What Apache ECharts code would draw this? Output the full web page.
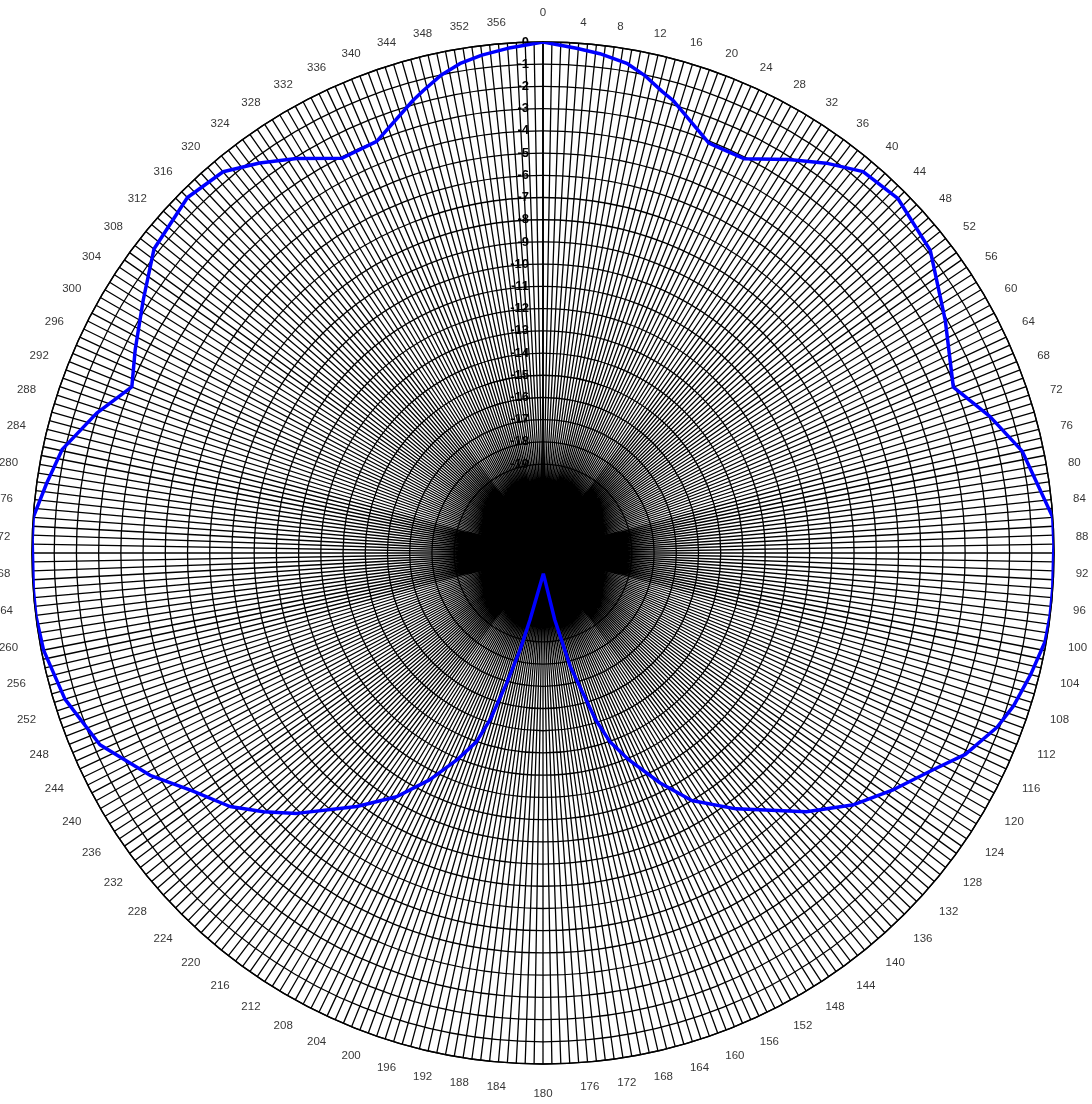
<!DOCTYPE html>
<html>
<head>
<meta charset="utf-8">
<title>Radiation pattern</title>
<script src="https://cdn.jsdelivr.net/npm/echarts@6/dist/echarts.min.js"></script>
<style>
  html, body { margin: 0; padding: 0; background: #ffffff; }
  #chart { width: 1092px; height: 1104px; }
</style>
</head>
<body>
<div id="chart"></div>
<script>
// Azimuth angles (degrees, clockwise from north) of the measured pattern
const angles = [
  0, 3.8, 6.5, 9.8, 12, 14.5, 16, 22, 23, 27, 32, 36, 40, 45, 52, 60, 68, 73, 78, 82,
  86, 89, 94, 97, 100, 104, 108, 111, 115.5, 119, 124, 129, 134.5, 143, 149, 153,
  157.5, 160.5, 162.5, 166.5, 170, 179, 181, 191, 193.3, 195.6, 197.6, 199.4, 202.6,
  206.5, 211, 216.3, 223.4, 227.2, 231, 236, 240.5, 246.6, 253, 259, 263, 266, 271.5,
  274, 278, 282.2, 287.4, 292, 296.5, 302.3, 308, 315, 320, 324, 328, 333, 338, 344,
  345.5, 348, 350.5, 353, 356, 360
];

// Relative gain (dB) at each azimuth
const gains = [
  0, -0.23, -0.38, -0.65, -1.02, -1.55, -1.8, -3.09, -3.11, -3.08, -2.12, -1.31, -0.59,
  -0.42, -0.88, -2.09, -3.08, -1.97, -0.95, -0.54, 0, 0, 0, 0, -0.05, -0.38, -0.73,
  -1.11, -1.94, -2.9, -3.96, -5.0, -6.38, -8.58, -10.0, -11.38, -12.93, -14.0, -15.14,
  -17.75, -19.95, -22.07, -22.07, -19.95, -18.53, -16.92, -15.13, -14.0, -12.91, -11.6,
  -10.2, -8.84, -6.87, -5.86, -4.87, -3.9, -2.68, -1.27, -0.5, -0.1, 0, 0, 0, 0, -0.44,
  -0.87, -1.95, -3.04, -2.49, -1.71, -0.78, -0.37, -0.6, -1.3, -2.06, -3.06, -3.02,
  -1.8, -1.5, -1.0, -0.64, -0.42, -0.23, 0
];

// Azimuth tick labels around the rim (degrees)
const azimuthTicks = [
  0, 4, 8, 12, 16, 20, 24, 28, 32, 36, 40, 44, 48, 52, 56, 60, 64, 68, 72, 76,
  80, 84, 88, 92, 96, 100, 104, 108, 112, 116, 120, 124, 128, 132, 136, 140, 144, 148,
  152, 156, 160, 164, 168, 172, 176, 180, 184, 188, 192, 196, 200, 204, 208, 212, 216,
  220, 224, 228, 232, 236, 240, 244, 248, 252, 256, 260, 264, 268, 272, 276, 280, 284,
  288, 292, 296, 300, 304, 308, 312, 316, 320, 324, 328, 332, 336, 340, 344, 348, 352, 356
];

// Radial scale (dB) and angular grid
const gainMin = -23;
const gainMax = 0;
const gainStep = 1;
const angleStep = 1;

const chart = echarts.init(document.getElementById('chart'), null, { renderer: 'canvas' });

const seriesData = angles.map((a, i) => [gains[i], a]);

const labelFont = 'Liberation Sans, Arial, sans-serif';

// Azimuth labels sit on a ring just outside the rim: left-aligned on the
// east half, right-aligned on the west half, centred at north and south.
const azimuthLabelData = azimuthTicks.map(a => {
  let align = 'center';
  if (a > 0 && a < 180) align = 'left';
  else if (a > 180) align = 'right';
  let offset = [0, 0];
  if (a === 0) offset = [0, -9];
  if (a === 180) offset = [0, 6];
  return { value: [1, a], label: { align: align, offset: offset } };
});

chart.setOption({
  animation: false,
  backgroundColor: '#ffffff',
  textStyle: { fontFamily: labelFont },
  polar: [
    // plotting grid
    { center: [543, 553], radius: 511 },
    // ring carrying the azimuth labels
    { center: [543, 555], radius: 533 }
  ],
  angleAxis: [
    {
      polarIndex: 0,
      type: 'value',
      min: 0,
      max: 360,
      interval: angleStep,
      startAngle: 90,
      clockwise: true,
      axisLine: { show: true, lineStyle: { color: '#000000', width: 1.4 } },
      axisTick: { show: false },
      splitLine: { show: true, lineStyle: { color: '#000000', width: 1.3 } },
      axisLabel: { show: false }
    },
    {
      polarIndex: 1,
      type: 'value',
      min: 0,
      max: 360,
      startAngle: 90,
      clockwise: true,
      show: false
    }
  ],
  radiusAxis: [
    {
      polarIndex: 0,
      type: 'value',
      min: gainMin,
      max: gainMax,
      interval: gainStep,
      axisLine: { show: true, lineStyle: { color: '#000000', width: 1.8 } },
      axisTick: { show: false },
      splitLine: { show: true, lineStyle: { color: '#000000', width: 1.3 } },
      axisLabel: {
        show: true,
        margin: 14,
        color: '#000000',
        fontSize: 13,
        fontWeight: 'bold',
        fontFamily: labelFont
      },
      z: 5
    },
    {
      polarIndex: 1,
      type: 'value',
      min: 0,
      max: 1,
      show: false
    }
  ],
  series: [
    {
      type: 'line',
      coordinateSystem: 'polar',
      polarIndex: 0,
      data: seriesData,
      symbol: 'none',
      smooth: false,
      lineStyle: { color: '#0000ff', width: 3.5 },
      z: 10
    },
    {
      type: 'scatter',
      coordinateSystem: 'polar',
      polarIndex: 1,
      silent: true,
      clip: false,
      symbolSize: 1,
      itemStyle: { color: 'rgba(0,0,0,0)' },
      data: azimuthLabelData,
      label: {
        show: true,
        position: 'inside',
        verticalAlign: 'middle',
        color: '#000000',
        textBorderWidth: 0,
        fontSize: 11.5,
        fontFamily: labelFont,
        formatter: function (p) { return String(p.value[1]); }
      },
      z: 12
    }
  ]
});
</script>
</body>
</html>
